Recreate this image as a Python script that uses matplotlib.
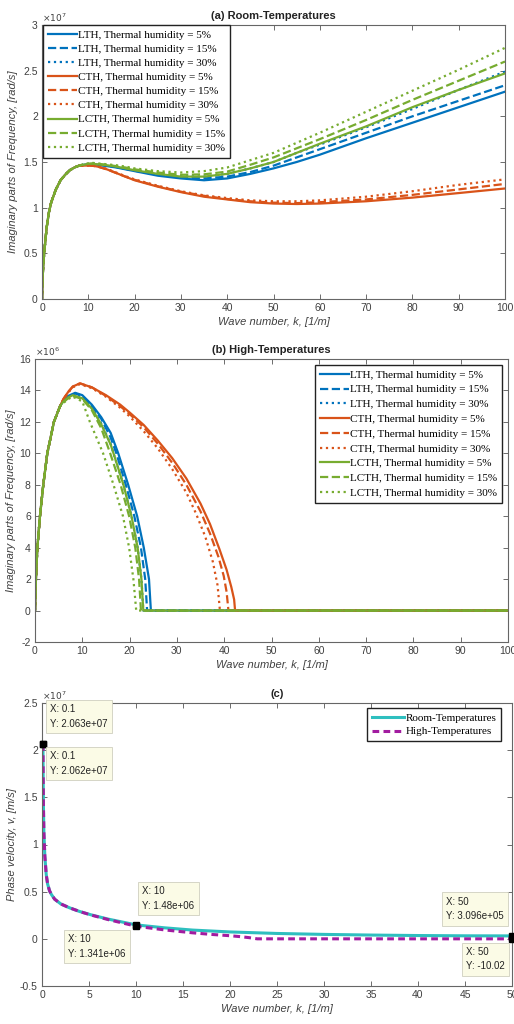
import numpy as np
import matplotlib.pyplot as plt
from matplotlib.ticker import FuncFormatter, MultipleLocator

plt.rcParams['font.family'] = ['Liberation Sans', 'DejaVu Sans']

BLUE = '#0072BD'
ORANGE = '#D95319'
GREEN = '#77AC30'
TXT = '#404040'

labels = ['LTH, Thermal humidity = 5%', 'LTH, Thermal humidity = 15%', 'LTH, Thermal humidity = 30%',
          'CTH, Thermal humidity = 5%', 'CTH, Thermal humidity = 15%', 'CTH, Thermal humidity = 30%',
          'LCTH, Thermal humidity = 5%', 'LCTH, Thermal humidity = 15%', 'LCTH, Thermal humidity = 30%']

# ---------- (a) room temperatures, Im(omega) in 1e7 rad/s
k_a = [0, 0.1, 0.25, 0.5, 1, 1.5, 2, 3, 4, 5, 6, 7, 8,
       9, 10, 11, 12, 14, 16, 18, 20, 25, 30, 35, 40, 45, 50, 55, 60, 70, 80, 90, 100]
rise_a = [0, 0.18, 0.35, 0.52, 0.78, 0.95, 1.06, 1.2, 1.3, 1.36, 1.41, 1.44, 1.46]
lth5_a = [1.47, 1.475, 1.475, 1.47, 1.455, 1.44, 1.42, 1.40, 1.35, 1.32, 1.30, 1.32, 1.37, 1.43, 1.50, 1.58, 1.76, 1.93, 2.10, 2.27]
lth15_a = [1.47, 1.475, 1.475, 1.47, 1.46, 1.445, 1.425, 1.405, 1.36, 1.33, 1.32, 1.34, 1.39, 1.46, 1.55, 1.64, 1.82, 2.00, 2.17, 2.34]
lth30_a = [1.47, 1.48, 1.48, 1.475, 1.465, 1.45, 1.43, 1.41, 1.37, 1.345, 1.34, 1.37, 1.43, 1.50, 1.60, 1.69, 1.88, 2.08, 2.29, 2.49]
cth5_a = [1.46, 1.462, 1.458, 1.45, 1.42, 1.38, 1.34, 1.30, 1.23, 1.17, 1.12, 1.09, 1.06, 1.045, 1.04, 1.045, 1.07, 1.11, 1.16, 1.21]
cth15_a = [1.46, 1.462, 1.458, 1.45, 1.42, 1.38, 1.34, 1.305, 1.235, 1.175, 1.13, 1.095, 1.07, 1.055, 1.05, 1.06, 1.09, 1.14, 1.20, 1.26]
cth30_a = [1.46, 1.462, 1.46, 1.455, 1.425, 1.385, 1.345, 1.31, 1.24, 1.18, 1.135, 1.105, 1.08, 1.07, 1.07, 1.08, 1.12, 1.18, 1.25, 1.31]
lcth5_a = [1.47, 1.48, 1.48, 1.475, 1.465, 1.45, 1.43, 1.41, 1.37, 1.34, 1.34, 1.37, 1.43, 1.50, 1.60, 1.70, 1.89, 2.10, 2.29, 2.47]
lcth15_a = [1.475, 1.48, 1.485, 1.48, 1.47, 1.455, 1.44, 1.42, 1.385, 1.36, 1.365, 1.395, 1.47, 1.55, 1.65, 1.75, 1.96, 2.18, 2.39, 2.60]
lcth30_a = [1.475, 1.485, 1.49, 1.485, 1.475, 1.465, 1.45, 1.43, 1.40, 1.385, 1.40, 1.44, 1.52, 1.60, 1.71, 1.82, 2.05, 2.28, 2.51, 2.75]

# ---------- (b) high temperatures, Im(omega) in 1e6 rad/s
rise_bk = [0, 0.1, 0.2, 0.5, 1.05, 1.75, 2.6, 4.0, 5.3]
rise_bv = [0, 1.0, 2, 4, 6, 8, 10, 12, 13]
lth5_bk = [6, 7, 8.5, 10, 12, 14, 16, 17.6, 19.7, 21.6, 23, 24.1, 24.5]
lth5_bv = [13.35, 13.65, 13.85, 13.7, 13.1, 12.3, 11.3, 10, 8, 6, 4, 2, 0]
lth15_bk = [6, 7, 8.5, 10, 12, 14, 16, 17.2, 19.2, 21, 22.4, 23.3, 23.7]
lth15_bv = [13.35, 13.6, 13.8, 13.65, 13.0, 12.2, 11.0, 10, 8, 6, 4, 2, 0]
lth30_bk = [6, 7, 8.3, 10, 12, 14, 16, 16.6, 18.7, 20.4, 21.7, 22.5, 22.9]
lth30_bv = [13.3, 13.55, 13.75, 13.55, 12.9, 11.9, 10.6, 10, 8, 6, 4, 2, 0]
cth5_bk = [6, 7, 8, 9.5, 12, 15, 18, 20, 23, 26, 29, 32, 35, 37, 39, 40.5, 41.5, 42.1, 42.3]
cth5_bv = [13.45, 13.9, 14.25, 14.45, 14.2, 13.7, 13.1, 12.6, 11.8, 10.8, 9.7, 8.4, 6.8, 5.5, 3.9, 2.6, 1.5, 0.7, 0]
cth15_bk = [6, 7, 8, 9.5, 12, 15, 18, 20, 23, 26, 29, 32, 35, 37, 38.8, 39.9, 40.5, 40.9]
cth15_bv = [13.45, 13.9, 14.25, 14.45, 14.2, 13.65, 13.0, 12.5, 11.65, 10.6, 9.4, 8.0, 6.3, 4.9, 3.4, 2.2, 1.2, 0]
cth30_bk = [6, 7, 8, 9.5, 12, 15, 18, 20, 23, 26, 29, 32, 34, 36, 37.6, 38.6, 39.1]
cth30_bv = [13.4, 13.85, 14.2, 14.4, 14.15, 13.6, 12.9, 12.35, 11.4, 10.3, 9.0, 7.5, 6.2, 4.7, 3.1, 1.6, 0]
lcth5_bk = [6, 7, 8, 10, 12, 14, 16, 16.6, 18.7, 20.4, 21.7, 22.5, 22.9]
lcth5_bv = [13.3, 13.55, 13.7, 13.5, 12.85, 11.85, 10.55, 10, 8, 6, 4, 2, 0]
lcth15_bk = [6, 7, 8, 10, 12, 14, 15.9, 18.1, 19.9, 21.2, 22.0, 22.4]
lcth15_bv = [13.25, 13.5, 13.65, 13.45, 12.75, 11.6, 10, 8, 6, 4, 2, 0]
lcth30_bk = [6, 7, 8, 10, 11.6, 14.4, 16.6, 18.6, 19.9, 20.8, 21.4]
lcth30_bv = [13.2, 13.45, 13.6, 13.3, 12.0, 10, 8, 6, 4, 2, 0]

# ---------- (c) phase velocity in 1e7 m/s
room_k = [0.1, 0.12, 0.15, 0.2, 0.3, 0.45, 0.6, 0.8, 1.0, 1.35, 2, 2.9, 4, 5.2, 7,
          10, 13, 16, 20, 25, 30, 35, 40, 45, 50]
room_v = [2.063, 1.75, 1.42, 1.13, 0.88, 0.68, 0.58, 0.51, 0.47, 0.42, 0.37, 0.33, 0.29, 0.255, 0.21,
          0.148, 0.117, 0.093, 0.073, 0.057, 0.047, 0.040, 0.035, 0.032, 0.031]
high_k = [0.1, 0.12, 0.15, 0.2, 0.3, 0.45, 0.6, 0.8, 1.0, 1.35, 2, 2.9, 4, 5.2, 7,
          10, 13, 16, 18, 20, 21, 22, 22.9, 30, 40, 50]
high_v = [2.062, 1.75, 1.42, 1.13, 0.88, 0.68, 0.58, 0.51, 0.47, 0.42, 0.37, 0.33, 0.29, 0.253, 0.205,
          0.1341, 0.095, 0.064, 0.047, 0.033, 0.024, 0.013, 0.0, 0.0, 0.0, -10.02e-7]
tip_x = [0.1, 0.1, 10, 10, 50, 50]
tip_y = [2.063e7, 2.062e7, 1.48e6, 1.341e6, 3.096e5, -10.02]
tip_txt = ['X: 0.1\nY: 2.063e+07', 'X: 0.1\nY: 2.062e+07', 'X: 10\nY: 1.48e+06',
           'X: 10\nY: 1.341e+06', 'X: 50\nY: 3.096e+05', 'X: 50\nY: -10.02']
tip_pos = [(0.018, 0.995), (0.018, 0.83), (0.213, 0.353), (0.056, 0.183), (0.86, 0.315), (0.902, 0.138)]

fig = plt.figure(figsize=(5.14, 10.24), dpi=100)
ax1 = fig.add_axes([42/514, 1-299/1024, 463/514, 274/1024])
ax2 = fig.add_axes([35/514, 1-642/1024, 473/514, 283/1024])
ax3 = fig.add_axes([42/514, 1-986/1024, 470/514, 283/1024])


def style(ax, scale, expo):
    ax.tick_params(direction='in', top=True, right=True, length=3.5, width=0.6,
                   colors='#555555', labelcolor=TXT, labelsize=7.5, pad=3)
    for s in ax.spines.values():
        s.set_color('#666666')
        s.set_linewidth(0.8)
    ax.yaxis.set_major_formatter(FuncFormatter(lambda v, p: '%g' % round(v / scale, 6)))
    ax.text(0.0, 1.005, r'$\times10^{%d}$' % expo, transform=ax.transAxes,
            fontsize=6.5, color=TXT, ha='left', va='bottom')
    ax.set_xlabel('Wave number, k, [1/m]', fontsize=8, style='italic', color=TXT, labelpad=3)


cols = [BLUE] * 3 + [ORANGE] * 3 + [GREEN] * 3
styles = ['-', '--', ':'] * 3


def leg_kw(size, spacing, hl=2.6):
    return dict(prop={'family': 'Liberation Serif', 'size': size}, frameon=True, fancybox=False,
                edgecolor='#222222', framealpha=1, handlelength=hl, handletextpad=0.1,
                labelspacing=spacing, borderpad=0.45, borderaxespad=0)


# (a)
series_a = [lth5_a, lth15_a, lth30_a, cth5_a, cth15_a, cth30_a, lcth5_a, lcth15_a, lcth30_a]
for vals, c, ls, lab in zip(series_a, cols, styles, labels):
    ax1.plot(k_a, np.array(rise_a + vals) * 1e7, color=c, ls=ls, lw=1.6, label=lab)
ax1.set_xlim(0, 100)
ax1.set_ylim(0, 3e7)
ax1.xaxis.set_major_locator(MultipleLocator(10))
ax1.yaxis.set_major_locator(MultipleLocator(0.5e7))
style(ax1, 1e7, 7)
ax1.set_ylabel('Imaginary parts of Frequency, [rad/s]', fontsize=8, style='italic', color=TXT, labelpad=4)
ax1.set_title('(a) Room-Temperatures', fontsize=8, fontweight='bold', color='#222222', pad=4)
ax1.legend(loc='upper left', bbox_to_anchor=(0.002, 1.0), **leg_kw(8, 0.39))

# (b)
series_b = [(lth5_bk, lth5_bv), (lth15_bk, lth15_bv), (lth30_bk, lth30_bv),
            (cth5_bk, cth5_bv), (cth15_bk, cth15_bv), (cth30_bk, cth30_bv),
            (lcth5_bk, lcth5_bv), (lcth15_bk, lcth15_bv), (lcth30_bk, lcth30_bv)]
for (kk, vv), c, ls, lab in zip(series_b, cols, styles, labels):
    kx = rise_bk + kk + [100]
    vy = rise_bv + vv + [0]
    ax2.plot(kx, np.array(vy) * 1e6, color=c, ls=ls, lw=1.6, label=lab)
ax2.set_xlim(0, 100)
ax2.set_ylim(-2e6, 16e6)
ax2.xaxis.set_major_locator(MultipleLocator(10))
ax2.yaxis.set_major_locator(MultipleLocator(2e6))
style(ax2, 1e6, 6)
ax2.set_ylabel('Imaginary parts of Frequency, [rad/s]', fontsize=8, style='italic', color=TXT, labelpad=2)
ax2.set_title('(b) High-Temperatures', fontsize=8, fontweight='bold', color='#222222', pad=4)
ax2.legend(loc='upper right', bbox_to_anchor=(0.987, 0.979), **leg_kw(8, 0.45))

# (c)
ax3.plot(room_k, np.array(room_v) * 1e7, color='#2EBFBF', lw=2.2, label='Room-Temperatures')
ax3.plot(high_k, np.array(high_v) * 1e7, color='#A21CA0', lw=2.2, ls=(0, (2.2, 1.4)), label='High-Temperatures')
ax3.plot(tip_x, tip_y, 's', color='black', ms=5, clip_on=False, zorder=5)
for x, y, t, pos in zip(tip_x, tip_y, tip_txt, tip_pos):
    ax3.annotate(t, xy=(x, y), xytext=pos, textcoords='axes fraction', ha='left', va='top',
                 fontsize=7, color='#222222', linespacing=1.55, zorder=6,
                 bbox=dict(boxstyle='square,pad=0.45', fc='#FBFBE6', ec='#CFCFBF', lw=0.6))
ax3.set_xlim(0, 50)
ax3.set_ylim(-0.5e7, 2.5e7)
ax3.xaxis.set_major_locator(MultipleLocator(5))
ax3.yaxis.set_major_locator(MultipleLocator(0.5e7))
style(ax3, 1e7, 7)
ax3.set_ylabel('Phase velocity, v, [m/s]', fontsize=8, style='italic', color=TXT, labelpad=2)
ax3.set_title('(c)', fontsize=8, fontweight='bold', color='#222222', pad=4)
ax3.legend(loc='upper right', bbox_to_anchor=(0.977, 0.982), **leg_kw(8, 0.34, 2.9))

fig.savefig('out.png', dpi=100)
